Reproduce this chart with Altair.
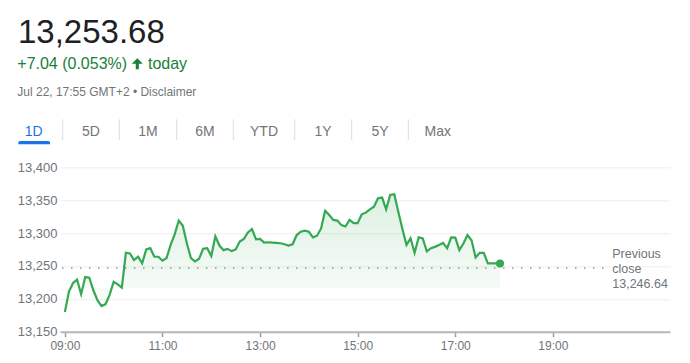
import altair as alt
import pandas as pd

# ---------------- data ----------------
price_now = "13,253.68"
change_text = "+7.04 (0.053%)"
date_text = "Jul 22, 17:55 GMT+2 • Disclaimer"
tabs = ["1D", "5D", "1M", "6M", "YTD", "1Y", "5Y", "Max"]
prev_close = 13246.64
prev_close_label = ["Previous", "close", "13,246.64"]

start_minute = 9 * 60          # 09:00
step_minutes = 5
values = [13180, 13211, 13224, 13229, 13207, 13233, 13232, 13213, 13198, 13189,
          13192, 13206, 13226, 13222, 13217, 13270, 13269, 13259, 13264, 13254,
          13275, 13277, 13264, 13264, 13258, 13262, 13282, 13298, 13319, 13311,
          13284, 13262, 13257, 13261, 13276, 13277, 13265, 13295, 13281, 13274,
          13276, 13272.5, 13275, 13287, 13291, 13301, 13306, 13290.5, 13291, 13285.5,
          13286, 13285.5, 13285, 13284.5, 13283, 13281, 13283, 13297, 13302, 13303.6,
          13302, 13293.5, 13296, 13307, 13334, 13327.5, 13320, 13319, 13312, 13310,
          13320, 13315, 13315, 13328.5, 13331, 13336, 13340, 13353, 13354, 13336,
          13358, 13359, 13332, 13306, 13282, 13292, 13270, 13293.5, 13292, 13272,
          13277, 13279, 13282, 13285, 13277, 13293.5, 13293, 13274, 13284, 13297,
          13289, 13263, 13270, 13270, 13254, 13254, 13254, 13253.68]
minutes = [start_minute + step_minutes * i for i in range(len(values))]
x_tick_minutes = [540, 660, 780, 900, 1020, 1140]
y_ticks = [13150, 13200, 13250, 13300, 13350, 13400]

df = pd.DataFrame({"minute": minutes, "value": values})
last = df.tail(1)
one = pd.DataFrame({"k": [0]})

# ---------------- layout / style ----------------
FONT = "Arial, Liberation Sans, sans-serif"
GRAY = "#70757a"
GREEN_LINE = "#34a853"
GREEN_TEXT = "#188038"
BLUE = "#1a73e8"
OX, OY = 60, 167.3           # page position of the plot origin
W, H = 610, 164.4

xscale = alt.Scale(domain=[534, 1284], nice=False, zero=False)
yscale = alt.Scale(domain=[13150, 13400], nice=False, zero=False)

x_axis = alt.Axis(values=x_tick_minutes, title="", grid=False,
                  labelExpr="(floor(datum.value/60) < 10 ? '0' : '') + floor(datum.value/60) + ':00'",
                  domainColor="#b5b8bc", domainWidth=2, tickColor="#9aa0a6", tickSize=5,
                  tickWidth=1.5, labelFontSize=12, labelColor=GRAY, labelFont=FONT,
                  labelBaseline="alphabetic", labelPadding=13, labelOverlap=False)
y_axis = alt.Axis(values=y_ticks, title="", format=",.0f", grid=True, gridColor="#eeeeee",
                  domain=False, ticks=False, labelPadding=3, labelFontSize=13,
                  labelColor=GRAY, labelFont=FONT, labelOverlap=False)

X = alt.X("minute:Q", scale=xscale, axis=x_axis)
Y = alt.Y("value:Q", scale=yscale, axis=y_axis)

base = alt.Chart(df)

area = base.mark_area(
    color=alt.Gradient(gradient="linear",
                       stops=[alt.GradientStop(color="rgba(52,168,83,0.17)", offset=0),
                              alt.GradientStop(color="rgba(52,168,83,0.01)", offset=1)],
                       x1=1, x2=1, y1=0, y2=1),
    interpolate="linear"
).encode(x=X, y=Y, y2=alt.datum(13216))

prev_rule = alt.Chart(one).transform_calculate(value=str(prev_close)).mark_rule(
    color="#80868b", strokeWidth=1.2, strokeDash=[1.5, 7.5]).encode(
    x=alt.value(2), x2=alt.value(547), y=Y
)

line = base.mark_line(color=GREEN_LINE, strokeWidth=2.2).encode(x=X, y=Y)

end_dot = alt.Chart(last).mark_point(filled=True, shape="circle", size=64,
                                     color=GREEN_LINE, opacity=1).encode(x=X, y=Y)

prev_text = alt.Chart(one).mark_text(align="left", baseline="alphabetic", fontSize=12.5,
                                     font=FONT, color=GRAY, lineHeight=15).encode(
    x=alt.value(612.3 - OX), y=alt.value(258.3 - OY), text=alt.value(prev_close_label)
)


def txt(s, px, py, size, color, align="left"):
    return alt.Chart(one).mark_text(align=align, baseline="alphabetic", fontSize=size,
                                    font=FONT, color=color).encode(
        x=alt.value(px - OX), y=alt.value(py - OY), text=alt.value(s))


header = [
    txt(price_now, 18, 43.3, 33, "#202124"),
    txt(change_text, 17.3, 69.5, 16, GREEN_TEXT),
    txt("today", 148, 69.5, 16, GREEN_TEXT),
    txt(date_text, 17.3, 96, 12, GRAY),
]

arrow = alt.Chart(one).mark_point(
    filled=True, opacity=1, color=GREEN_TEXT, strokeWidth=0, size=121,
    shape="M0,-1 L1,0 L0.28,0 L0.28,1 L-0.28,1 L-0.28,0 L-1,0 Z"
).encode(x=alt.value(137.3 - OX), y=alt.value(63.8 - OY))

tab_centers = [33.7, 91, 148, 205, 264, 323, 380, 437.8]
tab_layers = [txt(t, cx, 136.5, 14, BLUE if i == 0 else GRAY, align="center")
              for i, (t, cx) in enumerate(zip(tabs, tab_centers))]

sep_x = [62.7, 119.3, 176.7, 233.3, 294.7, 351.7, 408.3]
sep_layers = [alt.Chart(one).mark_rule(color="#dadce0", strokeWidth=1).encode(
    x=alt.value(sx - OX), y=alt.value(119.3 - OY), y2=alt.value(140 - OY)) for sx in sep_x]

underline = alt.Chart(one).mark_rect(color=BLUE, cornerRadiusTopLeft=3, cornerRadiusTopRight=3).encode(
    x=alt.value(18.3 - OX), x2=alt.value(50 - OX), y=alt.value(141 - OY), y2=alt.value(144.3 - OY))

chart = alt.layer(
    area, prev_rule, line, end_dot, prev_text, *header, arrow, *tab_layers, *sep_layers, underline
).properties(
    width=W, height=H,
    padding={"left": OX - 8, "top": OY - 8, "right": 12, "bottom": 22},
    autosize=alt.AutoSizeParams(type="none"),
    background="white",
).configure_view(stroke=None)

chart.save("out.html", embed_options={"renderer": "svg", "actions": False})
